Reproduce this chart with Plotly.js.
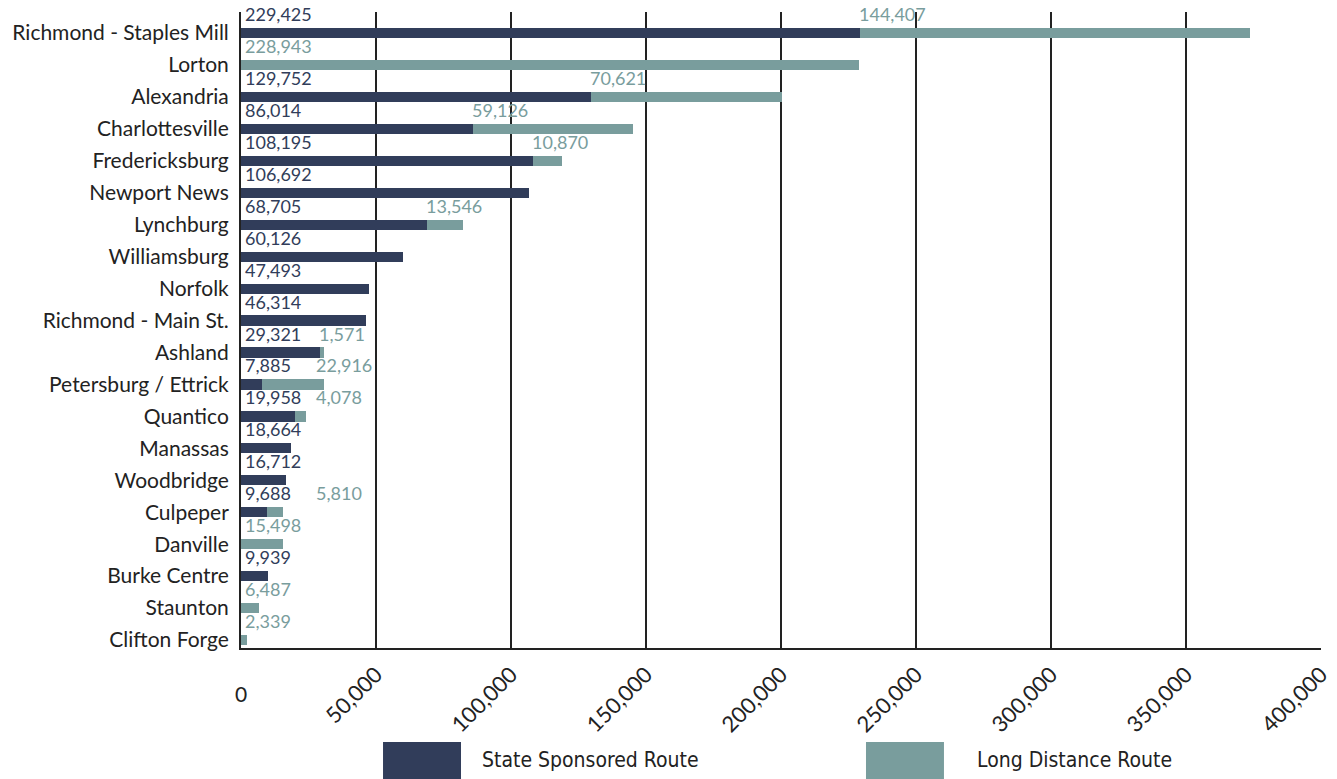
<!DOCTYPE html>
<html>
<head>
<meta charset="utf-8">
<script src="https://cdn.plot.ly/plotly-3.0.1.min.js"></script>
<style>html,body{margin:0;padding:0;background:#fff;}#chart{width:1337px;height:779px;}</style>
</head>
<body>
<div id="chart"></div>
<script>
const stations = ["Richmond - Staples Mill","Lorton","Alexandria","Charlottesville","Fredericksburg","Newport News","Lynchburg","Williamsburg","Norfolk","Richmond - Main St.","Ashland","Petersburg / Ettrick","Quantico","Manassas","Woodbridge","Culpeper","Danville","Burke Centre","Staunton","Clifton Forge"];
const stateSponsored = [229425,0,129752,86014,108195,106692,68705,60126,47493,46314,29321,7885,19958,18664,16712,9688,0,9939,0,0];
const longDistance = [144407,228943,70621,59126,10870,0,13546,0,0,0,1571,22916,4078,0,0,5810,15498,0,6487,2339];
const tickValues = [0,50000,100000,150000,200000,250000,300000,350000,400000];
const seriesNames = ["State Sponsored Route","Long Distance Route"];

const DARK = "#313d5a", TEAL = "#799d9d";
const fmt = v => v.toLocaleString("en-US");

const traces = [
  {type:"bar", orientation:"h", name:seriesNames[0], y:stations, x:stateSponsored, marker:{color:DARK}, width:0.32, hoverinfo:"x+y"},
  {type:"bar", orientation:"h", name:seriesNames[1], y:stations, x:longDistance, marker:{color:TEAL}, width:0.32, hoverinfo:"x+y"}
];

const annotations = [];
stations.forEach((s,i)=>{
  if(stateSponsored[i]>0){
    annotations.push({x:0, y:s, xref:"x", yref:"y", text:fmt(stateSponsored[i]), showarrow:false, xanchor:"left", yanchor:"middle", xshift:2, yshift:19, font:{family:"Lato, 'Open Sans', sans-serif", size:18, color:DARK}});
  }
  if(longDistance[i]>0){
    const lx = stateSponsored[i]>0 ? Math.max(stateSponsored[i], 28000) : 0;
    annotations.push({x:lx, y:s, xref:"x", yref:"y", text:fmt(longDistance[i]), showarrow:false, xanchor:"left", yanchor:"middle", xshift:stateSponsored[i]>0?-3:2, yshift:19, font:{family:"Lato, 'Open Sans', sans-serif", size:18, color:TEAL}});
  }
});
annotations.push({x:0, y:-0.071, xref:"x", yref:"paper", text:"0", showarrow:false, xanchor:"center", yanchor:"middle", font:{family:"Lato, 'Open Sans', sans-serif", size:21, color:"#222"}});
annotations.push({x:0.2213, y:-0.176, xref:"paper", yref:"paper", text:seriesNames[0], showarrow:false, xanchor:"left", yanchor:"middle", font:{family:"'Liberation Sans Narrow', 'DejaVu Sans Condensed', sans-serif", size:21, color:"#222"}});
annotations.push({x:0.6796, y:-0.176, xref:"paper", yref:"paper", text:seriesNames[1], showarrow:false, xanchor:"left", yanchor:"middle", font:{family:"'Liberation Sans Narrow', 'DejaVu Sans Condensed', sans-serif", size:21, color:"#222"}});

const shapes = [
  {type:"rect", xref:"paper", yref:"paper", x0:0.1315, x1:0.2037, y0:-0.1478, y1:-0.21, fillcolor:DARK, line:{width:0}},
  {type:"rect", xref:"paper", yref:"paper", x0:0.5787, x1:0.6509, y0:-0.1478, y1:-0.21, fillcolor:TEAL, line:{width:0}}
];

const layout = {
  width:1337, height:779,
  margin:{l:241, r:16, t:12, b:131},
  barmode:"stack",
  showlegend:false,
  paper_bgcolor:"#fff", plot_bgcolor:"#fff",
  xaxis:{range:[0,400000], tickvals:tickValues, ticktext:tickValues.map(v=>v===0?"":fmt(v)), tickangle:-45,
    showgrid:true, gridcolor:"#222", gridwidth:2, zeroline:false, showline:true, linecolor:"#222", linewidth:2, mirror:false,
    ticks:"", ticklabelstandoff:3, tickfont:{family:"Lato, 'Open Sans', sans-serif", size:22, color:"#222"}, fixedrange:true},
  yaxis:{type:"category", categoryorder:"array", categoryarray:stations, range:[19.25,-0.66],
    showline:true, linecolor:"#222", linewidth:2, showgrid:false, zeroline:false, ticks:"", ticklabelstandoff:6,
    tickfont:{family:"Lato, 'Open Sans', sans-serif", size:21, color:"#222"}, fixedrange:true},
  annotations, shapes
};
Plotly.newPlot("chart", traces, layout, {displayModeBar:false, staticPlot:true});
</script>
</body>
</html>
